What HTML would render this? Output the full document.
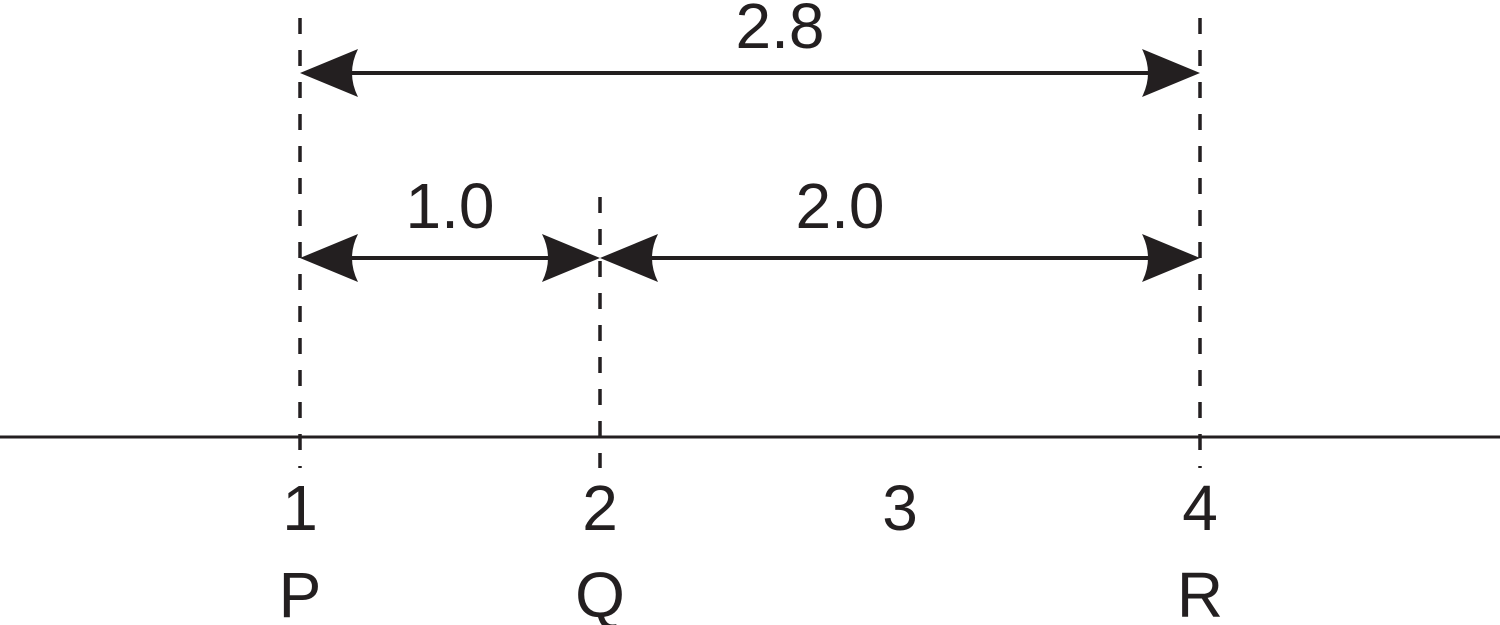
<!DOCTYPE html>
<html><head><meta charset="utf-8"><style>
html,body{margin:0;padding:0;background:#fff;width:1500px;height:625px;overflow:hidden}
text{font-family:"Liberation Sans",Arial,sans-serif;fill:#231f20}
</style></head><body>
<svg id="c" width="1500" height="625" viewBox="0 0 1500 625"></svg>
<script>
const tickValues = [1, 2, 3, 4];
const tickLabels = ["1", "2", "3", "4"];
const pointNames = ["P", "Q", "R"];
const pointValues = [1, 2, 4];
const spanStarts = [1, 1, 2];
const spanEnds = [4, 2, 4];
const spanLabels = ["2.8", "1.0", "2.0"];
const spanLabelAt = [2.6, 1.5, 2.8];
const spanRows = [0, 1, 1];

const NS = "http://www.w3.org/2000/svg";
const svg = document.getElementById("c");
const xs = v => 300 + (v - 1) * 300;
const rowY = r => [73, 258][r];
const labelOff = [25, 30];
const dashTop = [18, 197, 18];
function mk(tag, attrs) { const e = document.createElementNS(NS, tag); for (const k in attrs) e.setAttribute(k, attrs[k]); svg.appendChild(e); return e; }

const axis = mk("line", {x1: 0, x2: 1500, y1: 437, y2: 437, stroke: "#231f20", "stroke-width": 3});



pointValues.forEach((v, i) => {
  const l = mk("line", {x1: xs(v), x2: xs(v), y1: dashTop[i], y2: 468, stroke: "#231f20", "stroke-width": 3.5, "stroke-dasharray": "16 16"});
  
  
  const t = mk("text", {x: xs(v), y: 617, "font-size": 64, "text-anchor": "middle"});
  t.textContent = pointNames[i];
  
  
});

tickValues.forEach((v, i) => {
  const t = mk("text", {x: xs(v), y: 530, "font-size": 64, "text-anchor": "middle"});
  t.textContent = tickLabels[i];
  
  
});

function head(tx, y, dir) {
  const b = tx + dir * 58, m = tx + dir * 46;
  return mk("path", {d: `M${tx},${y} L${b},${y - 24} Q${m},${y} ${b},${y + 24} Z`, fill: "#231f20"});
}

spanStarts.forEach((s, i) => {
  const y = rowY(spanRows[i]), x1 = xs(s), x2 = xs(spanEnds[i]);
  const l = mk("line", {x1: x1 + 40, x2: x2 - 40, y1: y, y2: y, stroke: "#231f20", "stroke-width": 4});
  
  
  const h1 = head(x1, y, 1);
  
  
  const h2 = head(x2, y, -1);
  
  
  const t = mk("text", {x: xs(spanLabelAt[i]), y: y - labelOff[spanRows[i]], "font-size": 64, "text-anchor": "middle"});
  t.textContent = spanLabels[i];
  
  
});
</script>
</body></html>
